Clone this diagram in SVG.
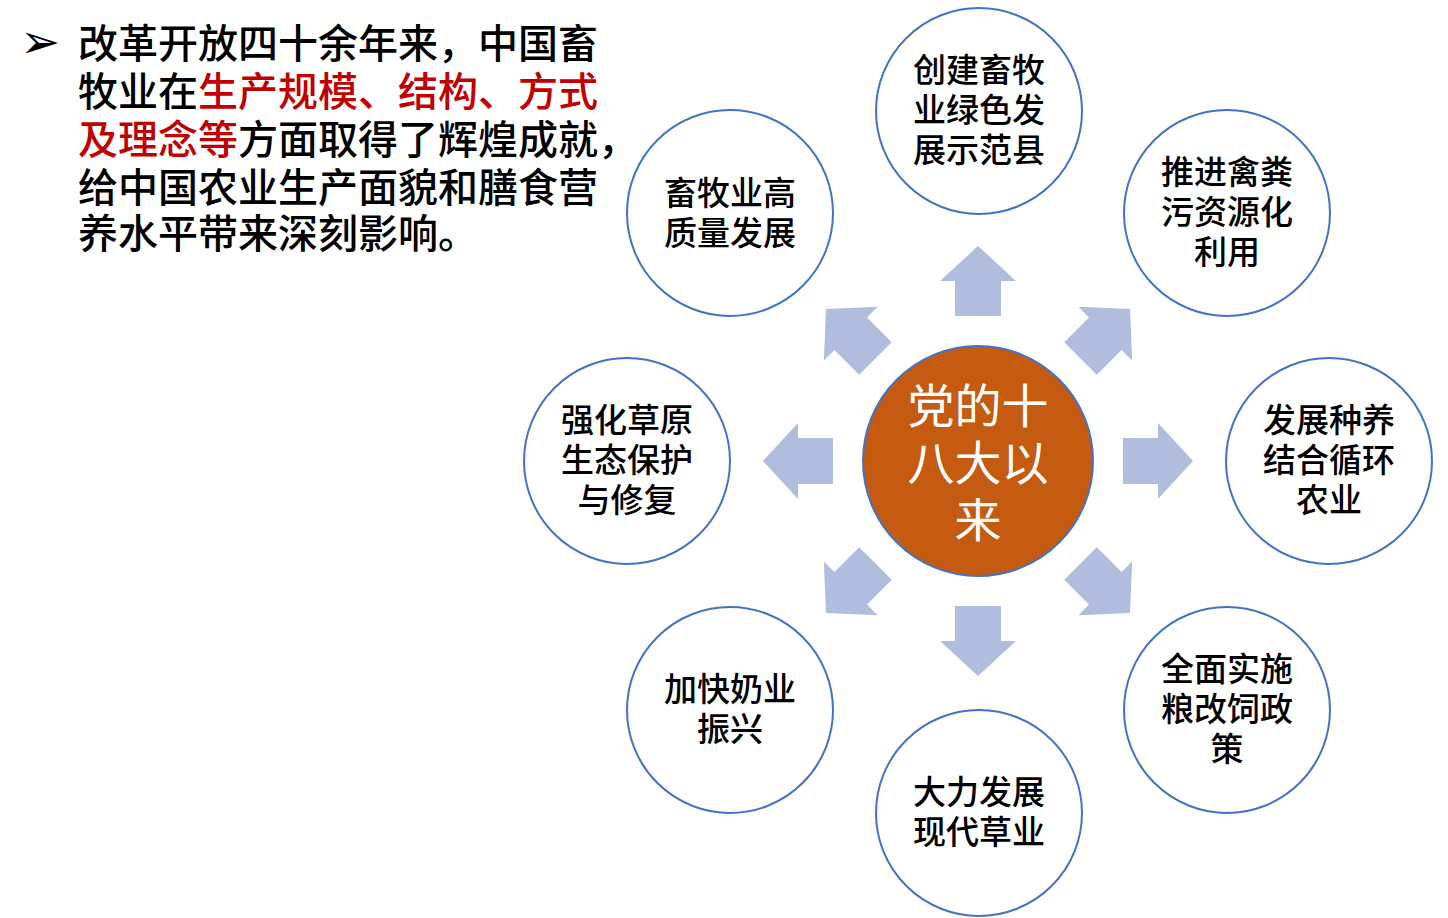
<svg xmlns="http://www.w3.org/2000/svg" width="1448" height="918" viewBox="0 0 1448 918">
<defs>
<style>
.cjk{font-family:"Noto Sans CJK SC","Noto Sans",sans-serif;}
.node circle{fill:#FFFFFF;stroke:#4472C4;stroke-width:2;}
.node text{font-family:"Noto Sans CJK SC","Noto Sans",sans-serif;font-size:33px;fill:#000;text-anchor:middle;dominant-baseline:central;font-weight:500;}
.arrow{fill:#B0BDDF;}
.body{font-size:40px;fill:#000;font-weight:500;dominant-baseline:central;}
.red{fill:#C00000;}
</style>
<polygon id="arr" points="145,-23 180,-23 180,-38 215,0 180,38 180,23 145,23"/>
</defs>
<rect width="1448" height="918" fill="#FFFFFF"/>
<g id="intro">
<text x="20" y="41" style="font-family:'DejaVu Sans',sans-serif;font-size:48px;dominant-baseline:central;fill:#000">➢</text>
<text class="cjk body" x="78" y="41">改革开放四十余年来，中国畜</text>
<text class="cjk body" x="78" y="89">牧业在<tspan class="red">生产规模、结构、方式</tspan></text>
<text class="cjk body" x="78" y="137"><tspan class="red">及理念等</tspan>方面取得了辉煌成就，</text>
<text class="cjk body" x="78" y="185">给中国农业生产面貌和膳食营</text>
<text class="cjk body" x="78" y="231">养水平带来深刻影响。</text>
</g>
<g id="connectors" class="arrow">
<use href="#arr" transform="translate(978,461) rotate(0)"/>
<use href="#arr" transform="translate(978,461) rotate(45)"/>
<use href="#arr" transform="translate(978,461) rotate(90)"/>
<use href="#arr" transform="translate(978,461) rotate(135)"/>
<use href="#arr" transform="translate(978,461) rotate(180)"/>
<use href="#arr" transform="translate(978,461) rotate(225)"/>
<use href="#arr" transform="translate(978,461) rotate(270)"/>
<use href="#arr" transform="translate(978,461) rotate(315)"/>
</g>
<g id="center">
<circle cx="978" cy="461" r="115" fill="#C55A11" stroke="#4472C4" stroke-width="2"/>
<text x="978" y="402" class="cjk" style="font-size:47px;fill:#FFFFFF;text-anchor:middle;dominant-baseline:central">党的十</text>
<text x="978" y="459" class="cjk" style="font-size:47px;fill:#FFFFFF;text-anchor:middle;dominant-baseline:central">八大以</text>
<text x="978" y="516" class="cjk" style="font-size:47px;fill:#FFFFFF;text-anchor:middle;dominant-baseline:central">来</text>
</g>
<g id="n-top" class="node">
<circle cx="979" cy="111" r="103"/>
<text x="979" y="68">创建畜牧</text>
<text x="979" y="108">业绿色发</text>
<text x="979" y="148">展示范县</text>
</g>
<g id="n-topright" class="node">
<circle cx="1227" cy="213" r="103"/>
<text x="1227" y="170">推进禽粪</text>
<text x="1227" y="210">污资源化</text>
<text x="1227" y="250">利用</text>
</g>
<g id="n-right" class="node">
<circle cx="1329" cy="461" r="103"/>
<text x="1329" y="418">发展种养</text>
<text x="1329" y="458">结合循环</text>
<text x="1329" y="498">农业</text>
</g>
<g id="n-bottomright" class="node">
<circle cx="1227" cy="710" r="103"/>
<text x="1227" y="667">全面实施</text>
<text x="1227" y="707">粮改饲政</text>
<text x="1227" y="747">策</text>
</g>
<g id="n-bottom" class="node">
<circle cx="979" cy="813" r="103"/>
<text x="979" y="790">大力发展</text>
<text x="979" y="830">现代草业</text>
</g>
<g id="n-bottomleft" class="node">
<circle cx="730" cy="710" r="103"/>
<text x="730" y="687">加快奶业</text>
<text x="730" y="727">振兴</text>
</g>
<g id="n-left" class="node">
<circle cx="627" cy="461" r="103"/>
<text x="627" y="418">强化草原</text>
<text x="627" y="458">生态保护</text>
<text x="627" y="498">与修复</text>
</g>
<g id="n-topleft" class="node">
<circle cx="730" cy="213" r="103"/>
<text x="730" y="191">畜牧业高</text>
<text x="730" y="231">质量发展</text>
</g>
</svg>
